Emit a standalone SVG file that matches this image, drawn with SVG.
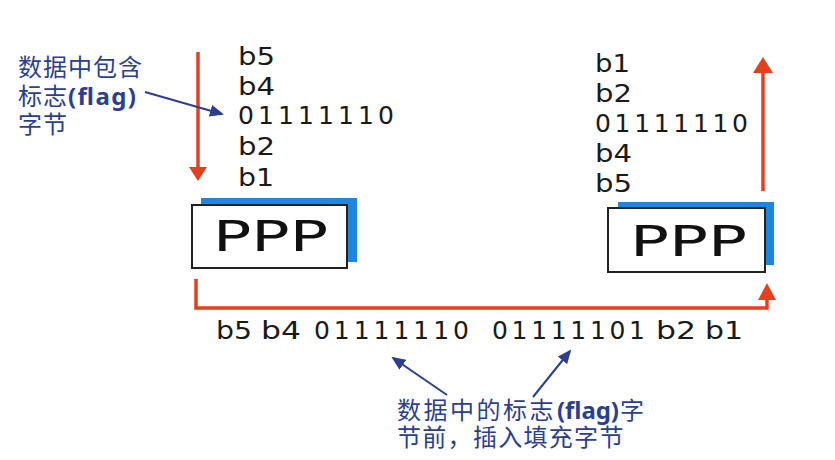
<svg xmlns="http://www.w3.org/2000/svg" width="835" height="460" viewBox="0 0 835 460">
<defs>
<style>
.bits{font-family:"DejaVu Sans","Liberation Sans",sans-serif;font-size:25px;fill:#1a1a1a}
.ppp{font-family:"DejaVu Sans","Liberation Sans",sans-serif;font-size:43px;fill:#111}
.note{font-family:"Noto Sans CJK SC","Noto Sans",sans-serif;font-size:24px;fill:#2b3f8e;letter-spacing:1px}
.flag{font-family:"Noto Sans","Noto Sans CJK SC",sans-serif;font-size:24px;font-weight:bold;fill:#2b3f8e}
.red{stroke:#e5401e;stroke-width:3.5;fill:none}
.redhead{fill:#e5401e}
.blue{stroke:#2b3f8e;stroke-width:2;fill:none}
.box{fill:#fff;stroke:#222;stroke-width:2}
.shadow{fill:#1e86e0}
</style>
<marker id="bluehead" markerWidth="7" markerHeight="6" refX="6" refY="3" orient="auto" markerUnits="strokeWidth"><path d="M0,0 L7,3 L0,6 Z" fill="#2b3f8e"/></marker>
</defs>
<rect width="835" height="460" fill="#fff"/>

<g id="left-stack">
<text class="bits" x="238" y="65" textLength="37" lengthAdjust="spacingAndGlyphs">b5</text>
<text class="bits" x="238" y="95" textLength="37" lengthAdjust="spacingAndGlyphs">b4</text>
<text class="bits" x="238" y="124" textLength="156">01111110</text>
<text class="bits" x="238" y="155" textLength="37" lengthAdjust="spacingAndGlyphs">b2</text>
<text class="bits" x="238" y="186" textLength="36" lengthAdjust="spacingAndGlyphs">b1</text>
</g>

<g id="right-stack">
<text class="bits" x="595" y="72" textLength="35" lengthAdjust="spacingAndGlyphs">b1</text>
<text class="bits" x="595" y="102" textLength="37" lengthAdjust="spacingAndGlyphs">b2</text>
<text class="bits" x="595" y="132" textLength="153">01111110</text>
<text class="bits" x="595" y="162" textLength="37" lengthAdjust="spacingAndGlyphs">b4</text>
<text class="bits" x="595" y="192" textLength="37" lengthAdjust="spacingAndGlyphs">b5</text>
</g>

<g id="ppp-left">
<rect class="shadow" x="201" y="198" width="156" height="64"/>
<rect class="box" x="192" y="205" width="155" height="63"/>
<text class="ppp" x="213" y="251" textLength="115" lengthAdjust="spacingAndGlyphs">PPP</text>
</g>

<g id="ppp-right">
<rect class="shadow" x="618" y="202" width="156" height="63"/>
<rect class="box" x="608" y="208" width="157" height="64"/>
<text class="ppp" x="630" y="256" textLength="117" lengthAdjust="spacingAndGlyphs">PPP</text>
</g>

<g id="bottom-bits">
<text class="bits" x="216" y="339" textLength="36" lengthAdjust="spacingAndGlyphs">b5</text>
<text class="bits" x="261" y="339" textLength="40" lengthAdjust="spacingAndGlyphs">b4</text>
<text class="bits" x="314" y="339" textLength="155">01111110</text>
<text class="bits" x="492" y="339" textLength="153">01111101</text>
<text class="bits" x="656" y="339" textLength="40" lengthAdjust="spacingAndGlyphs">b2</text>
<text class="bits" x="705" y="339" textLength="38" lengthAdjust="spacingAndGlyphs">b1</text>
</g>

<g id="note-left">
<text class="note" x="18" y="76">数据中包含</text>
<text class="note" x="18" y="105">标志</text>
<text class="flag" x="68" y="105" textLength="68">(flag)</text>
<text class="note" x="18" y="133">字节</text>
</g>

<g id="note-bottom">
<text class="note" x="397" y="419" style="letter-spacing:2.5px">数据中的标志</text>
<text class="flag" x="557" y="419" textLength="62">(flag)</text>
<text class="note" x="620" y="419">字</text>
<text class="note" x="397" y="446" style="letter-spacing:1.3px">节前，插入填充字节</text>
</g>

<g id="connectors">
<line class="red" x1="198" y1="52" x2="198" y2="168"/>
<polygon class="redhead" points="189,167 207,167 198,181"/>
<line class="red" x1="763" y1="191" x2="763" y2="72"/>
<polygon class="redhead" points="753,73 773,73 763,57"/>
<polyline class="red" points="196,279 196,308 767,308 767,298"/>
<polygon class="redhead" points="758,300 776,300 767,283"/>
<line class="blue" x1="145" y1="92" x2="222" y2="114" marker-end="url(#bluehead)"/>
<line class="blue" x1="447" y1="395" x2="393" y2="358" marker-end="url(#bluehead)"/>
<line class="blue" x1="533" y1="397" x2="570" y2="351" marker-end="url(#bluehead)"/>
</g>
</svg>
